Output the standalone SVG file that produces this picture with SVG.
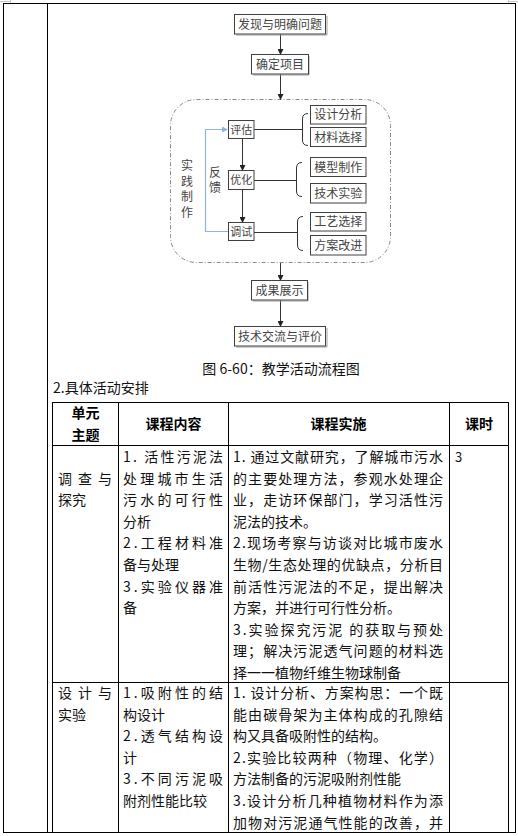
<svg xmlns="http://www.w3.org/2000/svg" width="518" height="836" viewBox="0 0 518 836">
<style>
.fb{fill:#fff;stroke:#404040;stroke-width:1}
.sh{fill:none;stroke:#a0a0a0;stroke-width:1}
.ft{font-family:"Noto Sans CJK SC","Noto Sans",sans-serif;font-size:12px;fill:#444;text-anchor:middle}
.fs{font-family:"Noto Sans CJK SC","Noto Sans",sans-serif;font-size:11px;fill:#444;text-anchor:middle}
.vt{font-family:"Noto Sans CJK SC","Noto Sans",sans-serif;font-size:12px;fill:#444;text-anchor:middle}
.ln{fill:none;stroke:#333;stroke-width:1}
.bl{fill:none;stroke:#8eb4e3;stroke-width:1.2}
.tb{fill:none;stroke:#000;stroke-width:1}
.t{font-family:"Noto Sans CJK SC","Noto Sans",sans-serif;font-size:14px;fill:#111}
.h{font-family:"Noto Sans CJK SC","Noto Sans",sans-serif;font-size:14px;font-weight:bold;fill:#000;text-anchor:middle}
.cap{font-family:"Noto Sans CJK SC","Noto Sans",sans-serif;font-size:14px;fill:#111;text-anchor:middle}
</style>
<defs>
<marker id="ar" markerWidth="6" markerHeight="6" refX="5" refY="3" orient="auto" markerUnits="userSpaceOnUse">
<path d="M0,0 L6,3 L0,6 z" fill="#222"/>
</marker>
<marker id="arb" markerWidth="6" markerHeight="6" refX="5" refY="3" orient="auto" markerUnits="userSpaceOnUse">
<path d="M0,0 L6,3 L0,6 z" fill="#8eb4e3"/>
</marker>
</defs>
<rect width="518" height="836" fill="#fff"/>
<!-- page corner marks -->
<g stroke="#c8c8c8" stroke-width="1" fill="none">
<path d="M0,1.5 H10 M10.5,0 V3"/>
<path d="M508.5,0 V3 M508,1.5 H518"/>
</g>
<!-- outer layout table -->
<g id="layout">
<rect class="tb" x="3.5" y="3.5" width="512" height="829"/>
<line class="tb" x1="47.5" y1="3.5" x2="47.5" y2="832.5"/>
</g>
<!-- dashed practice region -->
<g id="practice">
<rect x="170.5" y="99.5" width="220" height="163" rx="26" ry="26" fill="none" stroke="#8a8a8a" stroke-width="1" stroke-dasharray="4,2,1,2"/>
<text class="vt" x="187" y="170">实</text>
<text class="vt" x="187" y="185.5">践</text>
<text class="vt" x="187" y="201">制</text>
<text class="vt" x="187" y="216.5">作</text>
</g>
<g id="connectors">
<line class="ln" x1="280.5" y1="34" x2="280.5" y2="54" marker-end="url(#ar)"/>
<line class="ln" x1="280.5" y1="74" x2="280.5" y2="99" marker-end="url(#ar)"/>
<line class="ln" x1="242.5" y1="139" x2="242.5" y2="170" marker-end="url(#ar)"/>
<line class="ln" x1="242.5" y1="190" x2="242.5" y2="222" marker-end="url(#ar)"/>
<line class="ln" x1="280.5" y1="263" x2="280.5" y2="280" marker-end="url(#ar)"/>
<line class="ln" x1="280.5" y1="300" x2="280.5" y2="326" marker-end="url(#ar)"/>
<path class="bl" d="M228,231.5 H205.5 V129.5 H227" marker-end="url(#arb)"/>
<path class="ln" d="M254,129.5 H302"/>
<path class="ln" d="M308,113.5 Q302.5,113.5 302.5,119 V140 Q302.5,145.5 308,145.5"/>
<path class="ln" d="M254,180.5 H296"/>
<path class="ln" d="M302,162.5 Q296.5,162.5 296.5,168 V191 Q296.5,196.5 302,196.5"/>
<path class="ln" d="M254,232.5 H297"/>
<path class="ln" d="M303,216.5 Q297.5,216.5 297.5,222 V245 Q297.5,250.5 303,250.5"/>
<text class="vt" x="215" y="176.5">反</text>
<text class="vt" x="215" y="192">馈</text>
</g>
<g id="n-faxian">
<path class="sh" d="M327,16 V35 H236"/>
<rect class="fb" x="234.5" y="14.5" width="91" height="19.5"/>
<text class="ft" x="280" y="28.5">发现与明确问题</text>
</g>
<g id="n-queding">
<path class="sh" d="M309,56 V75 H253"/>
<rect class="fb" x="251.5" y="54.5" width="57" height="19.5"/>
<text class="ft" x="280" y="68.5">确定项目</text>
</g>
<g id="n-pinggu">
<rect class="fb" x="228.5" y="120.5" width="25.5" height="18"/>
<text class="fs" x="241.3" y="133.5">评估</text>
</g>
<g id="n-youhua">
<rect class="fb" x="228.5" y="170.5" width="25.5" height="19"/>
<text class="fs" x="241.3" y="184">优化</text>
</g>
<g id="n-tiaoshi">
<rect class="fb" x="228.5" y="222.5" width="25.5" height="18"/>
<text class="fs" x="241.3" y="235.5">调试</text>
</g>
<g id="n-sheji">
<rect class="fb" x="310.5" y="105.5" width="55.5" height="18.5"/>
<text class="ft" x="338.3" y="119">设计分析</text>
</g>
<g id="n-cailiao">
<rect class="fb" x="310.5" y="127.5" width="55.5" height="19"/>
<text class="ft" x="338.3" y="141.5">材料选择</text>
</g>
<g id="n-moxing">
<rect class="fb" x="310.5" y="157.5" width="55.5" height="19"/>
<text class="ft" x="338.3" y="171.5">模型制作</text>
</g>
<g id="n-jishu">
<rect class="fb" x="310.5" y="183.5" width="55.5" height="19.5"/>
<text class="ft" x="338.3" y="197.5">技术实验</text>
</g>
<g id="n-gongyi">
<rect class="fb" x="310.5" y="212.5" width="55.5" height="18.5"/>
<text class="ft" x="338.3" y="226">工艺选择</text>
</g>
<g id="n-fangan">
<rect class="fb" x="310.5" y="235.5" width="55.5" height="19.5"/>
<text class="ft" x="338.3" y="249.5">方案改进</text>
</g>
<g id="n-chengguo">
<path class="sh" d="M308,282 V301 H253"/>
<rect class="fb" x="251.5" y="280.5" width="56" height="19.5"/>
<text class="ft" x="279.5" y="294.5">成果展示</text>
</g>
<g id="n-jiaoliu">
<path class="sh" d="M327,328 V347 H236"/>
<rect class="fb" x="234.5" y="326.5" width="91" height="19.5"/>
<text class="ft" x="280" y="340.5">技术交流与评价</text>
</g>
<text class="cap" x="281" y="374">图 6-60：教学活动流程图</text>
<text class="t" x="53" y="393">2.具体活动安排</text>
<!-- schedule table -->
<g id="table">
<rect class="tb" x="52.5" y="402.5" width="456" height="430"/>
<line class="tb" x1="118.5" y1="402.5" x2="118.5" y2="832.5"/>
<line class="tb" x1="228.5" y1="402.5" x2="228.5" y2="832.5"/>
<line class="tb" x1="449.5" y1="402.5" x2="449.5" y2="832.5"/>
<line class="tb" x1="52.5" y1="445.5" x2="508.5" y2="445.5"/>
<line class="tb" x1="52.5" y1="682.5" x2="508.5" y2="682.5"/>
<text class="h" x="85.5" y="418">单元</text>
<text class="h" x="85.5" y="440">主题</text>
<text class="h" x="173.5" y="429">课程内容</text>
<text class="h" x="338.5" y="429">课程实施</text>
<text class="h" x="479" y="429">课时</text>
<!-- row 1 -->
<text class="t" x="58" y="483.6" textLength="54" lengthAdjust="spacing">调查与</text>
<text class="t" x="58" y="505.2">探究</text>
<text class="t" x="123" y="462" textLength="100" lengthAdjust="spacing">1. 活性污泥法</text>
<text class="t" x="123" y="483.6" textLength="100" lengthAdjust="spacing">处理城市生活</text>
<text class="t" x="123" y="505.2" textLength="100" lengthAdjust="spacing">污水的可行性</text>
<text class="t" x="123" y="526.8">分析</text>
<text class="t" x="123" y="548.4" textLength="100" lengthAdjust="spacing">2.工程材料准</text>
<text class="t" x="123" y="570">备与处理</text>
<text class="t" x="123" y="591.6" textLength="100" lengthAdjust="spacing">3.实验仪器准</text>
<text class="t" x="123" y="613.2">备</text>
<text class="t" x="233" y="462" textLength="210" lengthAdjust="spacing">1. 通过文献研究，了解城市污水</text>
<text class="t" x="233" y="483.6" textLength="210" lengthAdjust="spacing">的主要处理方法，参观水处理企</text>
<text class="t" x="233" y="505.2" textLength="210" lengthAdjust="spacing">业，走访环保部门，学习活性污</text>
<text class="t" x="233" y="526.8">泥法的技术。</text>
<text class="t" x="233" y="548.4" textLength="210" lengthAdjust="spacing">2.现场考察与访谈对比城市废水</text>
<text class="t" x="233" y="570" textLength="210" lengthAdjust="spacing">生物/生态处理的优缺点，分析目</text>
<text class="t" x="233" y="591.6" textLength="210" lengthAdjust="spacing">前活性污泥法的不足，提出解决</text>
<text class="t" x="233" y="613.2">方案，并进行可行性分析。</text>
<text class="t" x="233" y="634.8" textLength="210" lengthAdjust="spacing">3.实验探究污泥 的获取与预处</text>
<text class="t" x="233" y="656.4" textLength="210" lengthAdjust="spacing">理；解决污泥透气问题的材料选</text>
<text class="t" x="233" y="678">择一一植物纤维生物球制备</text>
<text class="t" x="455" y="462" style="font-size:13px">3</text>
<!-- row 2 -->
<text class="t" x="58" y="698" textLength="54" lengthAdjust="spacing">设计与</text>
<text class="t" x="58" y="719.6">实验</text>
<text class="t" x="123" y="698" textLength="100" lengthAdjust="spacing">1.吸附性的结</text>
<text class="t" x="123" y="719.6">构设计</text>
<text class="t" x="123" y="741.2" textLength="100" lengthAdjust="spacing">2.透气结构设</text>
<text class="t" x="123" y="762.8">计</text>
<text class="t" x="123" y="784.4" textLength="100" lengthAdjust="spacing">3.不同污泥吸</text>
<text class="t" x="123" y="806">附剂性能比较</text>
<text class="t" x="233" y="698" textLength="210" lengthAdjust="spacing">1. 设计分析、方案构思：一个既</text>
<text class="t" x="233" y="719.6" textLength="210" lengthAdjust="spacing">能由碳骨架为主体构成的孔隙结</text>
<text class="t" x="233" y="741.2">构又具备吸附性的结构。</text>
<text class="t" x="233" y="762.8" textLength="210" lengthAdjust="spacing">2.实验比较两种（物理、化学）</text>
<text class="t" x="233" y="784.4">方法制备的污泥吸附剂性能</text>
<text class="t" x="233" y="806" textLength="210" lengthAdjust="spacing">3.设计分析几种植物材料作为添</text>
<text class="t" x="233" y="827.6" textLength="210" lengthAdjust="spacing">加物对污泥通气性能的改善，并</text>
</g>
</svg>
